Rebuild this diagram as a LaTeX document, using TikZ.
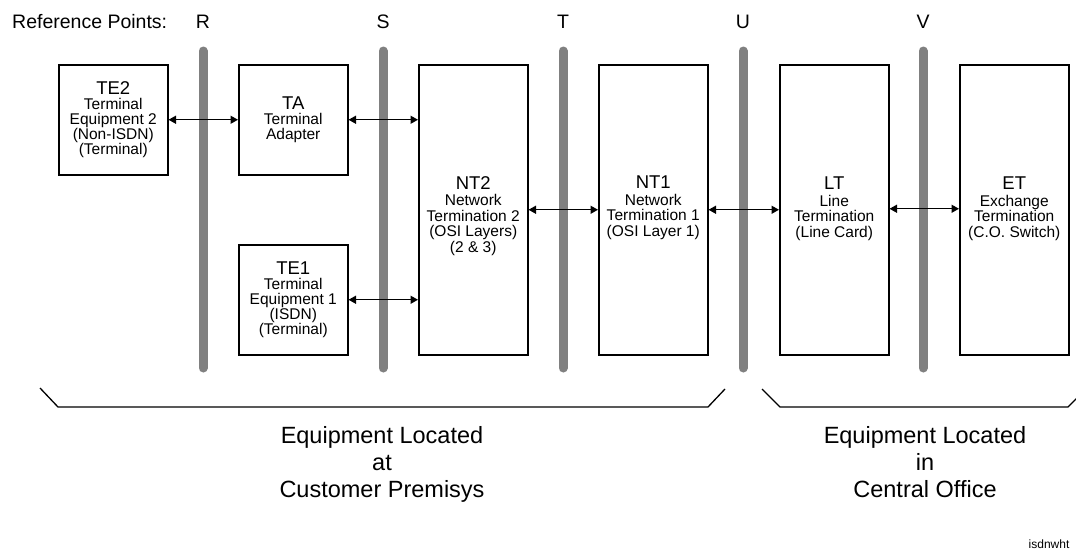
\documentclass[tikz,border=0pt]{standalone}
\usepackage{fontspec}
\setmainfont{Liberation Sans}
\usetikzlibrary{arrows.meta}
\newcommand{\ttl}[1]{{\fontsize{18.5}{18}\selectfont #1}}
\tikzset{
  box/.style={draw, line width=1.5pt, minimum width=109pt, inner sep=0pt, anchor=north west},
  smallbox/.style={box, minimum height=110pt, align=center, font=\fontsize{15.5}{15}\selectfont},
  tallbox/.style={box, minimum height=290pt},
  txt/.style={align=center, inner sep=0pt, font=\fontsize{15.5}{15.5}\selectfont, anchor=north},
  refbar/.style={line width=9pt, draw=black!50, line cap=round},
  reflabel/.style={font=\fontsize{19.5}{20}\selectfont, inner sep=0pt, anchor=base},
  conn/.style={{Triangle[length=7.5pt,width=8pt]}-{Triangle[length=7.5pt,width=8pt]}, line width=1.4pt},
  brace/.style={line width=1.3pt},
  bigtxt/.style={align=center, inner sep=0pt, anchor=north, font=\fontsize{23.5}{27}\selectfont}
}
\begin{document}
\begin{tikzpicture}[x=1pt,y=-1pt]
\useasboundingbox[fill=white] (0,0) rectangle (1076,552);

% reference point labels
\node[reflabel, anchor=base west] (refpts) at (12,28) {Reference Points:};
\foreach \n/\x in {R/203,S/383,T/563,U/743,V/923}{
  \node[reflabel] (lab\n) at (\x,28) {\n};
  \coordinate (top\n) at (\x,51);
  \coordinate (bot\n) at (\x,368);
  \draw[refbar] (top\n) -- (bot\n);
}

% boxes
\node[smallbox] (TE2) at (58,64) {\ttl{TE2}\\Terminal\\Equipment 2\\(Non-ISDN)\\(Terminal)};
\node[smallbox] (TA) at (238,64) {\ttl{TA}\\Terminal\\Adapter};
\node[smallbox] (TE1) at (238,244) {\ttl{TE1}\\Terminal\\Equipment 1\\(ISDN)\\(Terminal)};
\node[tallbox] (NT2) at (418,64) {};
\node[tallbox] (NT1) at (598,64) {};
\node[tallbox] (LT) at (779,64) {};
\node[tallbox] (ET) at (959,64) {};

\node[txt] (NT2t) at ([yshift=-112pt]NT2.north) {\ttl{NT2}\\[1pt]Network\\Termination 2\\(OSI Layers)\\(2 \& 3)};
\node[txt] (NT1t) at ([yshift=-112pt]NT1.north) {\ttl{NT1}\\[1pt]Network\\Termination 1\\(OSI Layer 1)};
\node[txt] (LTt) at ([yshift=-113pt]LT.north) {\ttl{LT}\\[1pt]Line\\Termination\\(Line Card)};
\node[txt] (ETt) at ([yshift=-113pt]ET.north) {\ttl{ET}\\[1pt]Exchange\\Termination\\(C.O. Switch)};

% connectors
\draw[conn] (TE2.east) -- (TA.west);
\draw[conn] (TA.east) -- (TA.east -| NT2.west);
\draw[conn] (TE1.east) -- (TE1.east -| NT2.west);
\draw[conn] (NT2.east) -- (NT1.west);
\draw[conn] (NT1.east) -- (LT.west);
\draw[conn] ([yshift=1pt]LT.east) -- ([yshift=1pt]ET.west);

% braces
\coordinate (a1) at (40,388);
\coordinate (a2) at (58,407);
\coordinate (a3) at (708,407);
\coordinate (a4) at (725,389);
\draw[brace] (a1) -- (a2) -- (a3) -- (a4);
\coordinate (c1) at (762,389);
\coordinate (c2) at (780,407);
\coordinate (c3) at (1068,407);
\coordinate (c4) at (1077,398);
\draw[brace] (c1) -- (c2) -- (c3) -- (c4);

\node[bigtxt] (cust) at (382,426) {Equipment Located\\at\\Customer Premisys};
\node[bigtxt] (co) at (925,426) {Equipment Located\\in\\Central Office};

\node[font=\fontsize{12}{12}\selectfont, inner sep=0pt, anchor=base] (tag) at (1049,548) {isdnwht};
\end{tikzpicture}
\end{document}
